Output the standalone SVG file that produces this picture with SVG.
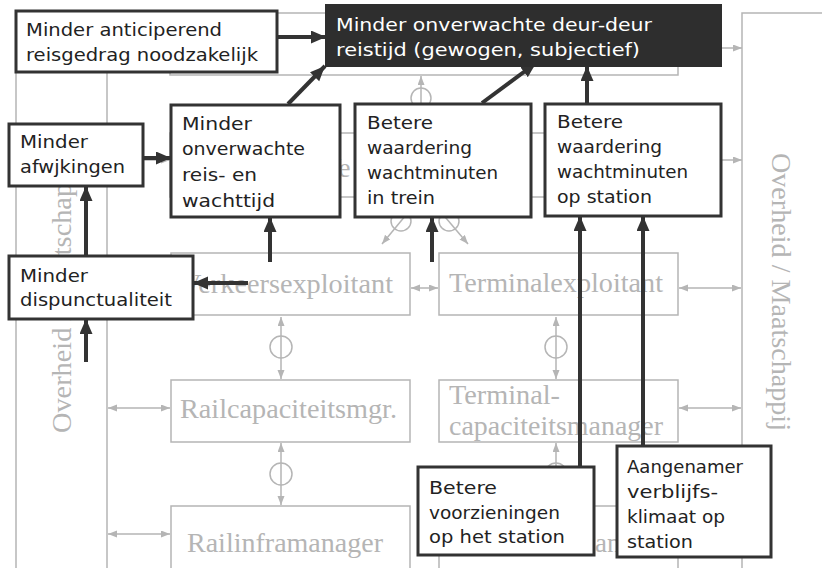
<svg xmlns="http://www.w3.org/2000/svg" width="822" height="568" viewBox="0 0 822 568">
<style>
.g{fill:none;stroke:#b5b5b5;stroke-width:1.5}
.gb{fill:#fff;stroke:#b5b5b5;stroke-width:1.5}
.ga{fill:none;stroke:#b5b5b5;stroke-width:1.5;marker-start:url(#gh);marker-end:url(#gh)}
.ga1{fill:none;stroke:#b5b5b5;stroke-width:1.5;marker-end:url(#gh)}
.gc{fill:none;stroke:#b5b5b5;stroke-width:1.5}
.gt{font-family:"Liberation Serif","Times New Roman",serif;font-size:27px;fill:#b5b5b5}
.vt{font-family:"Liberation Serif","Times New Roman",serif;font-size:28px;fill:#b5b5b5}
.box{fill:#fff;stroke:#333;stroke-width:3}
.dark{fill:#2e2e2e;stroke:#2e2e2e;stroke-width:2}
.t{font-family:"DejaVu Sans","Liberation Sans",sans-serif;font-size:17px;fill:#222}
.tw{font-family:"DejaVu Sans","Liberation Sans",sans-serif;font-size:17px;fill:#fff}
.c{fill:none;stroke:#333;stroke-width:4;marker-end:url(#dh)}
</style>
<defs>
<marker id="gh" markerUnits="userSpaceOnUse" markerWidth="10" markerHeight="8" refX="9" refY="3.5" orient="auto-start-reverse"><path d="M0,0 L9,3.5 L0,7 z" fill="#b5b5b5"/></marker>
<marker id="dh" markerUnits="userSpaceOnUse" markerWidth="16" markerHeight="14" refX="15" refY="6.5" orient="auto"><path d="M0,0 L15,6.5 L0,13 z" fill="#333"/></marker>
</defs>
<rect width="822" height="568" fill="#fff"/>

<g id="background">
  <g id="col-left">
    <path class="g" d="M16,13 V568 M107,13 V568 M16,13 H107"/>
    <text class="vt" transform="translate(71,433) rotate(-90)" textLength="280" lengthAdjust="spacingAndGlyphs">Overheid / Maatschappij</text>
  </g>
  <g id="col-right">
    <path class="g" d="M822,13 H742 V568"/>
    <text class="vt" transform="translate(772,153) rotate(90)" textLength="278" lengthAdjust="spacingAndGlyphs">Overheid / Maatschappij</text>
  </g>
  <g id="reiziger">
    <rect class="gb" x="170" y="13" width="508" height="62"/>
  </g>
  <g id="vervoerder">
    <rect class="gb" x="170" y="133" width="530" height="64"/>
    <text class="gt" x="322" y="177">Ve</text>
  </g>
  <g id="verkeersexploitant">
    <rect class="gb" x="171" y="253" width="239" height="62"/>
    <text class="gt" x="181" y="293" textLength="212" lengthAdjust="spacingAndGlyphs">Verkeersexploitant</text>
  </g>
  <g id="terminalexploitant">
    <rect class="gb" x="439" y="253" width="239" height="62"/>
    <text class="gt" x="449" y="292" textLength="214" lengthAdjust="spacingAndGlyphs">Terminalexploitant</text>
  </g>
  <g id="railcapaciteitsmgr">
    <rect class="gb" x="171" y="380" width="239" height="62"/>
    <text class="gt" x="180" y="418" textLength="217" lengthAdjust="spacingAndGlyphs">Railcapaciteitsmgr.</text>
  </g>
  <g id="terminalcapaciteitsmanager">
    <rect class="gb" x="439" y="380" width="239" height="62"/>
    <text class="gt" x="449" y="404" textLength="111" lengthAdjust="spacingAndGlyphs">Terminal-</text>
    <text class="gt" x="449" y="435" textLength="214" lengthAdjust="spacingAndGlyphs">capaciteitsmanager</text>
  </g>
  <g id="railinframanager">
    <rect class="gb" x="171" y="506" width="239" height="80"/>
    <text class="gt" x="187" y="552" textLength="196" lengthAdjust="spacingAndGlyphs">Railinframanager</text>
  </g>
  <g id="terminalmanager">
    <rect class="gb" x="439" y="506" width="239" height="80"/>
    <text class="gt" x="595" y="552">an</text>
  </g>
  <g id="grey-links">
    <path class="ga1" d="M700,48 H742"/>
    <path class="ga1" d="M700,160 H742"/>
    <path class="ga" d="M108,160 H170"/>
    <path class="ga" d="M411,288 H438"/>
    <path class="ga" d="M679,288 H741"/>
    <path class="ga" d="M679,408 H741"/>
    <path class="ga" d="M108,408 H170"/>
    <path class="ga" d="M108,534 H170"/>
    <path class="ga" d="M421,76 V132"/>
    <circle class="gc" cx="421" cy="98" r="10"/>
    <path class="ga" d="M281,317 V379"/>
    <circle class="gc" cx="281" cy="347" r="11"/>
    <path class="ga" d="M281,443 V505"/>
    <circle class="gc" cx="281" cy="474" r="11"/>
    <path class="ga" d="M556,317 V379"/>
    <circle class="gc" cx="556" cy="347" r="11"/>
    <path class="ga" d="M556,443 V505"/>
    <circle class="gc" cx="556" cy="474" r="11"/>
    <path class="ga" d="M420,198 L382,244"/>
    <circle class="gc" cx="401" cy="221" r="10"/>
    <path class="ga" d="M429,198 L468,244"/>
    <circle class="gc" cx="449" cy="221" r="10"/>
  </g>
</g>

<g id="connectors">
  <path class="c" d="M277,37 H326"/>
  <path class="c" d="M288,104 L325,66"/>
  <path class="c" d="M482,103 L536,63"/>
  <path class="c" d="M587,104 V66"/>
  <path class="c" d="M143,158 H171"/>
  <path class="c" d="M86,256 V186"/>
  <path class="c" d="M86,362 V319"/>
  <path class="c" d="M248,283 H193"/>
  <path class="c" d="M270,262 V217"/>
  <path class="c" d="M432,262 V217"/>
  <path class="c" d="M580,467 V216"/>
  <path class="c" d="M643,446 V216"/>
</g>

<g id="n-anticiperend">
  <rect class="box" x="16" y="11" width="261" height="61"/>
  <text class="t" x="26" y="36" textLength="196" lengthAdjust="spacingAndGlyphs">Minder anticiperend</text>
  <text class="t" x="26" y="61" textLength="232" lengthAdjust="spacingAndGlyphs">reisgedrag noodzakelijk</text>
</g>
<g id="n-deurdeur">
  <rect class="dark" x="326" y="5" width="395" height="61"/>
  <text class="tw" x="336" y="31" textLength="316" lengthAdjust="spacingAndGlyphs">Minder onverwachte deur-deur</text>
  <text class="tw" x="336" y="56" textLength="304" lengthAdjust="spacingAndGlyphs">reistijd (gewogen, subjectief)</text>
</g>
<g id="n-afwijkingen">
  <rect class="box" x="9" y="124" width="134" height="62"/>
  <text class="t" x="20" y="148" textLength="68" lengthAdjust="spacingAndGlyphs">Minder</text>
  <text class="t" x="20" y="173" textLength="105" lengthAdjust="spacingAndGlyphs">afwjkingen</text>
</g>
<g id="n-reiswacht">
  <rect class="box" x="171" y="105" width="169" height="112"/>
  <text class="t" x="182" y="130" textLength="70" lengthAdjust="spacingAndGlyphs">Minder</text>
  <text class="t" x="182" y="155" textLength="123" lengthAdjust="spacingAndGlyphs">onverwachte</text>
  <text class="t" x="182" y="181" textLength="75" lengthAdjust="spacingAndGlyphs">reis- en</text>
  <text class="t" x="182" y="207" textLength="93" lengthAdjust="spacingAndGlyphs">wachttijd</text>
</g>
<g id="n-trein">
  <rect class="box" x="355" y="104" width="176" height="113"/>
  <text class="t" x="367" y="129" textLength="66" lengthAdjust="spacingAndGlyphs">Betere</text>
  <text class="t" x="367" y="154" textLength="105" lengthAdjust="spacingAndGlyphs">waardering</text>
  <text class="t" x="367" y="179" textLength="131" lengthAdjust="spacingAndGlyphs">wachtminuten</text>
  <text class="t" x="367" y="204" textLength="68" lengthAdjust="spacingAndGlyphs">in trein</text>
</g>
<g id="n-station">
  <rect class="box" x="545" y="104" width="176" height="112"/>
  <text class="t" x="557" y="128" textLength="66" lengthAdjust="spacingAndGlyphs">Betere</text>
  <text class="t" x="557" y="153" textLength="105" lengthAdjust="spacingAndGlyphs">waardering</text>
  <text class="t" x="557" y="178" textLength="131" lengthAdjust="spacingAndGlyphs">wachtminuten</text>
  <text class="t" x="557" y="203" textLength="95" lengthAdjust="spacingAndGlyphs">op station</text>
</g>
<g id="n-dispunctualiteit">
  <rect class="box" x="9" y="256" width="184" height="63"/>
  <text class="t" x="20" y="282" textLength="68" lengthAdjust="spacingAndGlyphs">Minder</text>
  <text class="t" x="20" y="306" textLength="152" lengthAdjust="spacingAndGlyphs">dispunctualiteit</text>
</g>
<g id="n-voorzieningen">
  <rect class="box" x="418" y="467" width="176" height="88"/>
  <text class="t" x="429" y="494" textLength="68" lengthAdjust="spacingAndGlyphs">Betere</text>
  <text class="t" x="429" y="519" textLength="131" lengthAdjust="spacingAndGlyphs">voorzieningen</text>
  <text class="t" x="429" y="543" textLength="136" lengthAdjust="spacingAndGlyphs">op het station</text>
</g>
<g id="n-klimaat">
  <rect class="box" x="617" y="446" width="154" height="111"/>
  <text class="t" x="627" y="473" textLength="116" lengthAdjust="spacingAndGlyphs">Aangenamer</text>
  <text class="t" x="627" y="498" textLength="91" lengthAdjust="spacingAndGlyphs">verblijfs-</text>
  <text class="t" x="627" y="523" textLength="98" lengthAdjust="spacingAndGlyphs">klimaat op</text>
  <text class="t" x="627" y="548" textLength="66" lengthAdjust="spacingAndGlyphs">station</text>
</g>
</svg>
